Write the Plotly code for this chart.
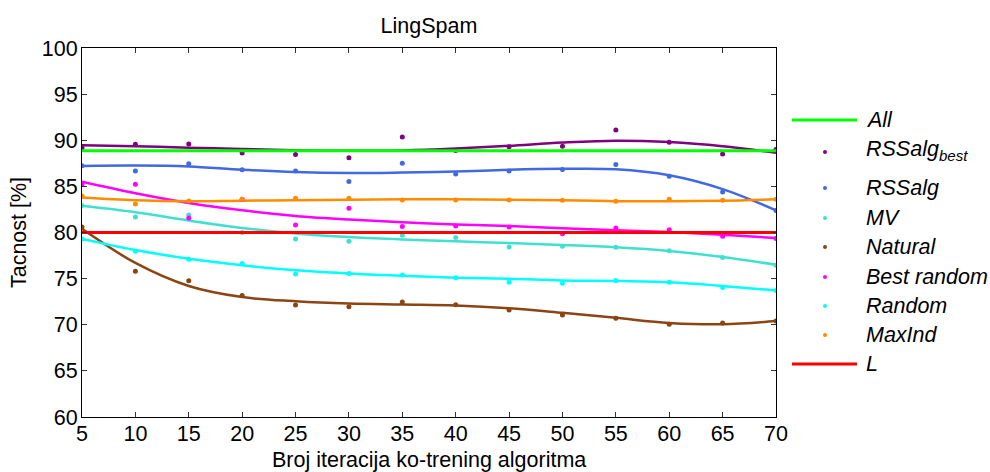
import plotly.graph_objects as go

# ---------------- data ----------------
iterations = [5, 10, 15, 20, 25, 30, 35, 40, 45, 50, 55, 60, 65, 70]

all_value = 88.85
l_value = 80.0

rssalg_best = [89.17, 89.57, 89.60, 88.63, 88.46, 88.10, 90.36, 88.90, 89.30, 89.35, 91.10, 89.78, 88.50, 89.00]
rssalg = [87.23, 86.66, 87.45, 86.80, 86.66, 85.54, 87.50, 86.33, 86.66, 86.84, 87.38, 86.10, 84.40, 82.38]
mv = [82.92, 81.67, 81.90, 80.00, 79.30, 79.04, 79.70, 79.47, 78.43, 78.50, 78.40, 78.03, 77.30, 76.46]
natural = [80.60, 75.80, 74.76, 73.18, 72.14, 71.96, 72.46, 72.18, 71.60, 71.06, 70.70, 70.05, 70.20, 70.40]
best_random = [85.26, 85.22, 81.56, 83.60, 80.80, 82.63, 80.65, 80.70, 80.60, 79.87, 80.50, 80.30, 79.60, 79.36]
random_sel = [79.30, 77.96, 77.10, 76.63, 75.50, 75.55, 75.40, 75.10, 74.60, 74.50, 74.80, 74.60, 74.04, 73.70]
maxind = [83.96, 83.10, 83.42, 83.60, 83.70, 83.70, 83.53, 83.53, 83.53, 83.50, 83.40, 83.60, 83.50, 83.60]

# fitted trend curves (at each iteration count)
fit_rssalg_best = [89.45, 89.35, 89.20, 89.05, 88.92, 88.85, 88.90, 89.10, 89.40, 89.75, 89.95, 89.80, 89.35, 88.65]
fit_rssalg = [87.20, 87.25, 87.15, 86.80, 86.55, 86.45, 86.50, 86.60, 86.80, 86.90, 86.85, 86.20, 84.70, 82.40]
fit_mv = [82.90, 82.20, 81.30, 80.50, 79.90, 79.50, 79.25, 79.05, 78.85, 78.65, 78.40, 78.00, 77.35, 76.50]
fit_natural = [80.40, 76.70, 74.20, 73.00, 72.55, 72.30, 72.20, 72.10, 71.80, 71.30, 70.75, 70.20, 70.05, 70.40]
fit_best_random = [85.50, 84.25, 83.20, 82.40, 81.80, 81.40, 81.10, 80.87, 80.70, 80.45, 80.25, 80.05, 79.75, 79.40]
fit_random = [79.30, 78.10, 77.15, 76.45, 75.90, 75.55, 75.30, 75.10, 75.00, 74.80, 74.75, 74.60, 74.20, 73.70]
fit_maxind = [83.80, 83.50, 83.40, 83.45, 83.50, 83.55, 83.60, 83.60, 83.55, 83.50, 83.40, 83.40, 83.45, 83.60]

series_names = ["RSSalg<sub>best</sub>", "RSSalg", "MV", "Natural", "Best random", "Random", "MaxInd"]
series_points = [rssalg_best, rssalg, mv, natural, best_random, random_sel, maxind]
series_fits = [fit_rssalg_best, fit_rssalg, fit_mv, fit_natural, fit_best_random, fit_random, fit_maxind]
series_colors = ["#800080", "#4169E1", "#40E0D0", "#8B4513", "#FF00FF", "#00FFFF", "#FF8C00"]
all_color = "#00FF00"
l_color = "#FF0000"

x_title = "Broj iteracija ko-trening algoritma"
y_title = "Tacnost [%]"
chart_title = "LingSpam"

FONT = "Arial, 'Liberation Sans', sans-serif"
FS = 21.5

fig = go.Figure()

for fit, col in zip(series_fits, series_colors):
    fig.add_trace(go.Scatter(x=iterations, y=fit, mode="lines",
                             line=dict(color=col, width=2.5, shape="spline", smoothing=1.0),
                             showlegend=False, hoverinfo="skip"))

for pts, col, name in zip(series_points, series_colors, series_names):
    fig.add_trace(go.Scatter(x=iterations, y=pts, mode="markers", name=name,
                             marker=dict(color=col, size=5),
                             showlegend=False))

fig.add_trace(go.Scatter(x=iterations, y=[all_value] * len(iterations), mode="lines",
                         line=dict(color=all_color, width=3), name="All", showlegend=False))
fig.add_trace(go.Scatter(x=iterations, y=[l_value] * len(iterations), mode="lines",
                         line=dict(color=l_color, width=3), name="L", showlegend=False))

# ---------------- layout ----------------
W, H = 990, 472
ML, MR, MT, MB = 82, 214, 48, 55
PW = W - ML - MR
PH = H - MT - MB


def px_to_paper_x(px):
    return (px - ML) / PW


def px_to_paper_y(py):
    return (H - MB - py) / PH


fig.update_layout(
    template="none",
    width=W, height=H,
    margin=dict(l=ML, r=MR, t=MT, b=MB, pad=0),
    paper_bgcolor="white", plot_bgcolor="white",
    font=dict(family=FONT, size=FS, color="black"),
    title=dict(text=chart_title, x=0.5, xref="paper", xanchor="center",
               y=1 - 25 / H, yref="container", yanchor="middle",
               font=dict(family=FONT, size=FS, color="black")),
    showlegend=False,
)

fig.update_xaxes(range=[5, 70], tickmode="array", tickvals=iterations,
                 ticks="inside", ticklen=5, tickwidth=1, tickcolor="#333",
                 showline=True, linecolor="black", linewidth=1, mirror="allticks",
                 showgrid=False, zeroline=False, automargin=False,
                 tickfont=dict(family=FONT, size=FS, color="black"),
                 ticklabelstandoff=-3)
fig.update_yaxes(range=[60, 100], tickmode="array", tickvals=list(range(60, 101, 5)),
                 ticks="inside", ticklen=5, tickwidth=1, tickcolor="#333",
                 showline=True, linecolor="black", linewidth=1, mirror="allticks",
                 showgrid=False, zeroline=False, automargin=False,
                 tickfont=dict(family=FONT, size=FS, color="black"),
                 ticklabelstandoff=-1,
                 title=dict(text=y_title, standoff=9,
                            font=dict(family=FONT, size=FS, color="black")))

# x-axis title (placed just under the tick labels, as in the original)
fig.add_annotation(text=x_title, xref="paper", yref="paper",
                   x=0.5, y=px_to_paper_y(460), xanchor="center", yanchor="middle",
                   showarrow=False, font=dict(family=FONT, size=FS, color="black"))

# ---------------- manual legend (outside right) ----------------
line_x0, line_x1, dot_x, text_x = 792, 857, 825, 864
legend_rows = [
    ("All", "line", all_color, 120),
    (series_names[0], "dot", series_colors[0], 152),
    (series_names[1], "dot", series_colors[1], 188),
    (series_names[2], "dot", series_colors[2], 218),
    (series_names[3], "dot", series_colors[3], 247),
    (series_names[4], "dot", series_colors[4], 277),
    (series_names[5], "dot", series_colors[5], 306),
    (series_names[6], "dot", series_colors[6], 335),
    ("L", "line", l_color, 364),
]
for label, kind, col, py in legend_rows:
    yp = px_to_paper_y(py)
    if kind == "line":
        fig.add_shape(type="line", xref="paper", yref="paper",
                      x0=px_to_paper_x(line_x0), x1=px_to_paper_x(line_x1), y0=yp, y1=yp,
                      line=dict(color=col, width=3))
    else:
        fig.add_shape(type="circle", xref="paper", yref="paper",
                      xsizemode="pixel", ysizemode="pixel",
                      xanchor=px_to_paper_x(dot_x), yanchor=yp,
                      x0=-2, x1=2, y0=-2, y1=2,
                      fillcolor=col, line=dict(color=col, width=0))
    ty = py - 2 if "sub" in label else py
    fig.add_annotation(text="<i>" + label + "</i>", xref="paper", yref="paper",
                       x=px_to_paper_x(text_x), y=px_to_paper_y(ty),
                       xanchor="left", yanchor="middle", showarrow=False,
                       font=dict(family=FONT, size=FS, color="black"))

fig.write_html("out.html")
